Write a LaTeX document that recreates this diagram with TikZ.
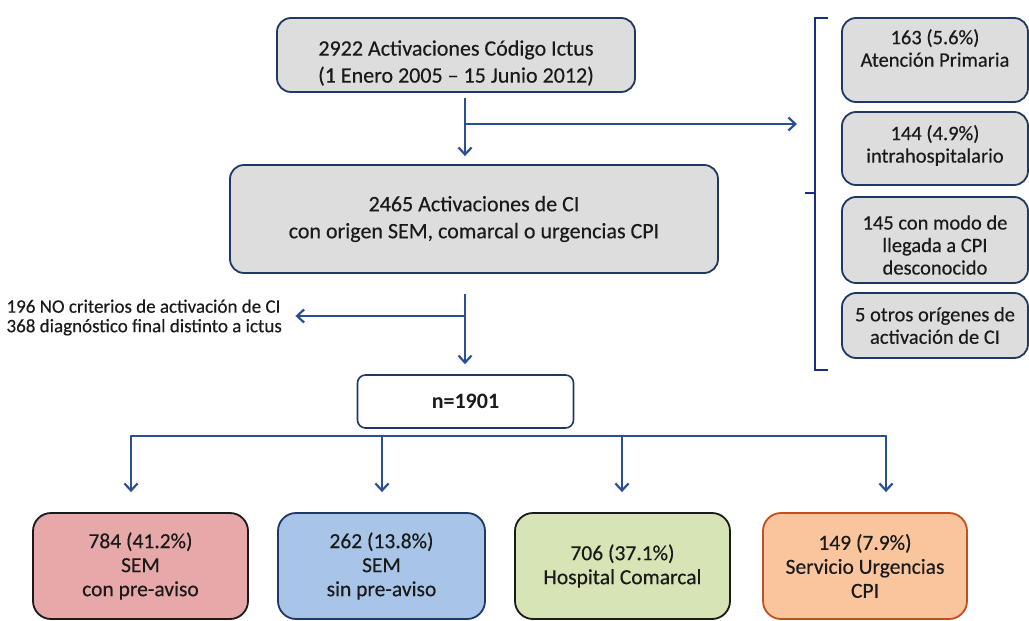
\documentclass[tikz,border=0pt]{standalone}
\usepackage{fontspec}
\setmainfont{Carlito}[UprightFeatures={FakeBold=0.35}]
\usetikzlibrary{arrows.meta,calc}

\definecolor{navy}{HTML}{1F3864}
\definecolor{linkblue}{HTML}{2A4F95}
\definecolor{bracketblue}{HTML}{1C2E80}
\definecolor{boxgray}{HTML}{DDDDDD}
\definecolor{inkdark}{HTML}{1A1A1A}
\definecolor{redfill}{HTML}{E6A8A8}
\definecolor{bluefill}{HTML}{A8C5E8}
\definecolor{greenfill}{HTML}{D6E4B6}
\definecolor{orangefill}{HTML}{FAC49D}
\definecolor{orangeedge}{HTML}{C0501F}

\tikzset{
  graybox/.style={draw=navy, line width=1.8pt, fill=boxgray, rounded corners=14pt,
    inner sep=0pt, text=inkdark},
  mainfont/.style={font=\fontsize{22}{27}\selectfont, align=center, text=inkdark},
  sidefont/.style={font=\fontsize{20.5}{22.5}\selectfont, align=center, text=inkdark},
  leftfont/.style={font=\fontsize{19}{19.5}\selectfont, align=left, text=inkdark},
  endfont/.style={font=\fontsize{21.5}{24}\selectfont, align=center, text=inkdark},
  endbox/.style={line width=1.8pt, rounded corners=18pt, inner sep=0pt,
    minimum height=106pt, endfont},
  conn/.style={draw=linkblue, line width=2.2pt},
  arr/.style={conn, -{Straight Barb[length=7pt,width=13pt]}},
}

\begin{document}
\begin{tikzpicture}[x=1pt, y=-1pt]
  \useasboundingbox (0,0) rectangle (1029,621);

  % trunk x position
  \coordinate (t1) at (465,0);

  % top boxes
  \node[graybox, minimum width=358pt, minimum height=74pt,
        label={[mainfont, yshift=-8pt]center:2922 Activaciones Código Ictus\\(1 Enero 2005 – 15 Junio 2012)}]
        (b1) at (456,55) {};
  \node[graybox, minimum width=488pt, minimum height=108pt, mainfont]
        (b2) at (474,219) {2465 Activaciones de CI\\con origen SEM, comarcal o urgencias CPI};

  % excluded origins on the right
  \node[graybox, minimum width=186pt, minimum height=84pt,
        label={[sidefont, yshift=12pt]center:163 (5.6\%)\\Atención Primaria}]
        (sa) at (935,60) {};
  \node[graybox, minimum width=186pt, minimum height=73pt,
        label={[sidefont, yshift=3pt]center:144 (4.9\%)\\intrahospitalario}]
        (sb) at (935,148.5) {};
  \node[graybox, minimum width=186pt, minimum height=86pt,
        label={[sidefont, yshift=-5pt]center:145 con modo de\\llegada a CPI\\desconocido}]
        (sc) at (935,240) {};
  \node[graybox, minimum width=186pt, minimum height=65pt, sidefont]
        (sd) at (935,325.5) {5 otros orígenes de\\activación de CI};

  % bracket grouping the right boxes
  \coordinate (brk) at (815,193);
  \draw[draw=bracketblue, line width=2.6pt]
    (828,18) -- (815,18) -- (815,370) -- (828,370);
  \draw[draw=bracketblue, line width=2.6pt] (brk) -- ++(-10,0);

  % excluded cases on the left
  \node[leftfont, anchor=west] (lt) at (3,317.5)
    {196 NO criterios de activación de CI\\368 diagnóstico final distinto a ictus};

  % final sample
  \node[draw=navy, line width=1.6pt, fill=white, rounded corners=8pt,
        minimum width=216pt, minimum height=53pt,
        font=\bfseries\fontsize{22}{24}\selectfont, text=inkdark]
        (nb) at (465.5,401.5) {n=1901};

  % arrival groups
  \node[endbox, draw=inkdark, fill=redfill, minimum width=215pt]
        (r1) at (140.5,566) {784 (41.2\%)\\SEM\\con pre-aviso};
  \node[endbox, draw=navy, fill=bluefill, minimum width=207pt]
        (r2) at (381.5,566) {262 (13.8\%)\\SEM\\sin pre-aviso};
  \node[endbox, draw=inkdark, fill=greenfill, minimum width=215pt]
        (r3) at (622.5,566) {706 (37.1\%)\\Hospital Comarcal};
  \node[endbox, draw=orangeedge, fill=orangefill, minimum width=204pt]
        (r4) at (865,566) {149 (7.9\%)\\Servicio Urgencias\\CPI};

  % flow connectors
  \coordinate (j1) at (465,124);
  \coordinate (j2) at (465,316);
  \draw[arr, shorten <=5pt, shorten >=8pt] (b1.south -| t1) -- (b2.north -| t1);
  \draw[arr, shorten >=18pt] (j1) -- (j1 -| brk);
  \draw[arr, shorten <=20pt, shorten >=10pt] (b2.south -| t1) -- (nb.north -| t1);
  \draw[arr, shorten >=10pt] (j2) -- (j2 -| lt.east);

  % distribution bus below the final sample
  \coordinate (d1) at (131,436);
  \coordinate (d2) at (382,436);
  \coordinate (d3) at (622,436);
  \coordinate (d4) at (886,436);
  \draw[conn, line cap=round] (d1) -- (d4);
  \draw[arr, shorten >=20pt] (d1) -- (d1 |- r1.north);
  \draw[arr, shorten >=20pt] (d2) -- (d2 |- r2.north);
  \draw[arr, shorten >=20pt] (d3) -- (d3 |- r3.north);
  \draw[arr, shorten >=20pt] (d4) -- (d4 |- r4.north);
\end{tikzpicture}
\end{document}
